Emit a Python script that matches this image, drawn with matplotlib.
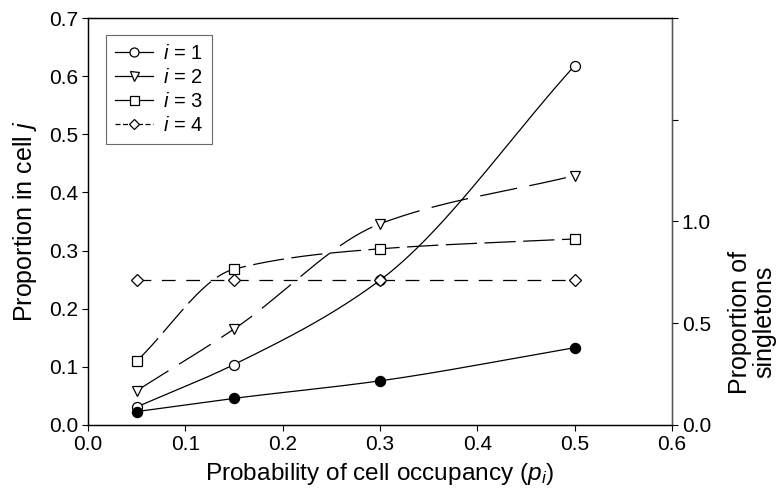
import numpy as np
import matplotlib
matplotlib.use("Agg")
import matplotlib.pyplot as plt
from matplotlib.lines import Line2D

plt.rcParams["font.family"] = ["Liberation Sans", "DejaVu Sans"]
plt.rcParams["mathtext.fontset"] = "custom"
plt.rcParams["mathtext.it"] = "Liberation Sans:italic"
plt.rcParams["mathtext.rm"] = "Liberation Sans"

# ---- data ----
p = [0.05, 0.15, 0.30, 0.50]
prop_i1 = [0.031, 0.104, 0.249, 0.618]
prop_i2 = [0.059, 0.165, 0.346, 0.429]
prop_i3 = [0.110, 0.268, 0.303, 0.320]
prop_i4 = [0.250, 0.250, 0.250, 0.250]
singletons = [0.066, 0.131, 0.217, 0.380]   # right axis


def smooth(x, y, n=200):
    """monotone cubic (Fritsch-Carlson) curve through the points, drawing only."""
    x = np.asarray(x, float); y = np.asarray(y, float)
    h = np.diff(x); dlt = np.diff(y) / h
    m = np.zeros_like(y)
    m[0], m[-1] = dlt[0], dlt[-1]
    for j in range(1, len(x) - 1):
        if dlt[j - 1] * dlt[j] > 0:
            w1 = 2 * h[j] + h[j - 1]; w2 = h[j] + 2 * h[j - 1]
            m[j] = (w1 + w2) / (w1 / dlt[j - 1] + w2 / dlt[j])
    xs = np.linspace(x[0], x[-1], n); ys = np.empty_like(xs)
    for k, t in enumerate(xs):
        j = min(np.searchsorted(x, t, side="right") - 1, len(x) - 2)
        s = (t - x[j]) / h[j]
        h00 = 2 * s**3 - 3 * s**2 + 1; h10 = s**3 - 2 * s**2 + s
        h01 = -2 * s**3 + 3 * s**2; h11 = s**3 - s**2
        ys[k] = h00 * y[j] + h10 * h[j] * m[j] + h01 * y[j + 1] + h11 * h[j] * m[j + 1]
    return xs, ys


fig = plt.figure(figsize=(7.81, 4.92), dpi=100)
ax = fig.add_axes([88 / 781, 1 - 425 / 492, (672 - 88) / 781, (425 - 18) / 492])
ax2 = ax.twinx()

lw = 0.9
series = [
    (prop_i1, "o", "-", "$i$ = 1"),
    (prop_i2, "v", (0, (30, 10)), "$i$ = 2"),
    (prop_i3, "s", (0, (25, 6)), "$i$ = 3"),
    (prop_i4, "D", (0, (11, 8.5)), "$i$ = 4"),
]
handles = []
for y, mk, ls, lab in series:
    xs, ys = smooth(p, y)
    ax.plot(xs, ys, color="black", lw=lw, ls=ls, zorder=2)
    ms = 6.0 if mk == "D" else 7.2
    ax.plot(p, y, ls="none", marker=mk, ms=ms, mfc="white", mec="black", mew=0.9, zorder=3)
    handles.append(Line2D([], [], color="black", lw=lw, ls="-" if mk != "D" else (0, (4, 2)),
                          marker=mk, ms=ms * 0.9, mfc="white", mec="black", mew=0.9, label=lab))

xs, ys = smooth(p, singletons)
ax2.plot(xs, ys, color="black", lw=lw, zorder=2)
ax2.plot(p, singletons, ls="none", marker="o", ms=7.2, mfc="black", mec="black", zorder=3)

ax.set_xlim(0, 0.6)
ax.set_ylim(0, 0.7)
ax.set_xticks(np.arange(0, 0.61, 0.1))
ax.set_yticks(np.arange(0, 0.71, 0.1))
ax.xaxis.set_major_formatter(plt.FormatStrFormatter("%.1f"))
ax.yaxis.set_major_formatter(plt.FormatStrFormatter("%.1f"))
ax2.set_ylim(0, 2.0)
ax2.set_yticks([0, 0.5, 1.0, 1.5, 2.0])
ax2.set_yticklabels(["0.0", "0.5", "1.0", "", ""])

for a in (ax, ax2):
    a.tick_params(direction="out", length=4, width=0.8, labelsize=15, pad=3)
    for s in a.spines.values():
        s.set_linewidth(0.9)
ax2.spines["right"].set_color("#555555")

ax.set_xlabel("Probability of cell occupancy ($p_i$)", fontsize=17.6, labelpad=5)
ax.set_ylabel("Proportion in cell $j$", fontsize=18, labelpad=7)
fig.text(752 / 781, 1 - 322 / 492, "Proportion of\nsingletons", rotation=90,
         fontsize=18, ha="center", va="center", linespacing=1.05)

leg = ax.legend(handles=handles, loc="upper left", bbox_to_anchor=(0.03, 0.958),
                fontsize=14.5, frameon=True, fancybox=False, edgecolor="#444444",
                handlelength=1.9, handletextpad=0.5, borderpad=0.45, labelspacing=0.25,
                borderaxespad=0)
leg.get_frame().set_linewidth(0.8)

fig.savefig("out.png", dpi=100)
